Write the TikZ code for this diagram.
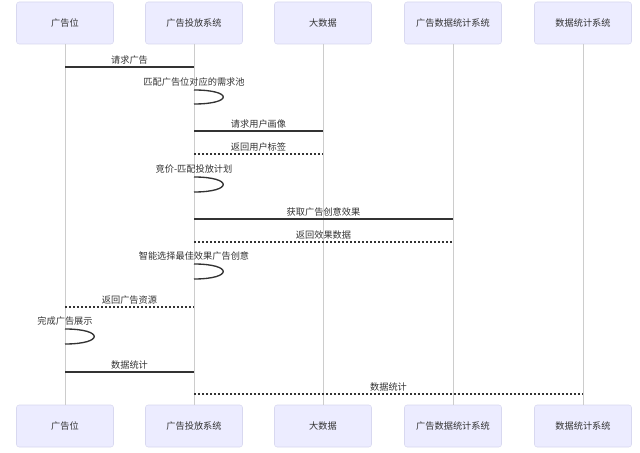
\documentclass[tikz,border=0pt]{standalone}
\usepackage{fontspec}
\setmainfont{Noto Sans CJK SC}
\definecolor{actorfill}{HTML}{ECECFF}
\definecolor{actorline}{HTML}{D8D8F0}
\definecolor{txt}{HTML}{333333}
\definecolor{lifegray}{HTML}{CCCCCC}
\begin{document}
\begin{tikzpicture}[x=0.75pt, y=-0.75pt, font=\fontsize{6.9}{8}\selectfont, line join=round, line cap=butt,
  actor/.style={draw=actorline, fill=actorfill, rounded corners=2pt, minimum width=72.75pt, minimum height=31.5pt, inner sep=0pt, text=txt},
  lifeline/.style={draw=lifegray, line width=0.75pt},
  msg/.style={draw=txt, line width=1pt},
  reply/.style={draw=txt, line width=0.9pt, dash pattern=on 1.5pt off 1.5pt},
  lbl/.style={text=txt, inner sep=1.5pt}]
% 画布
\useasboundingbox (0,0) rectangle (640,453);
\fill[white] (0,0) rectangle (640,453);
\def\top{23}  % 顶部参与者
\def\bot{426} % 底部参与者
% --- 参与者 ---
\node[actor] (pos)   at (65,\top)  {广告位};
\node[actor] (sys)   at (194,\top) {广告投放系统};
\node[actor] (big)   at (323,\top) {大数据};
\node[actor] (stat)  at (453,\top) {广告数据统计系统};
\node[actor] (data)  at (583,\top) {数据统计系统};
\node[actor] (posB)  at (65,\bot)  {广告位};
\node[actor] (sysB)  at (194,\bot) {广告投放系统};
\node[actor] (bigB)  at (323,\bot) {大数据};
\node[actor] (statB) at (453,\bot) {广告数据统计系统};
\node[actor] (dataB) at (583,\bot) {数据统计系统};
% --- 生命线 ---
\draw[lifeline] (pos) -- (posB);
\draw[lifeline] (sys) -- (sysB);
\draw[lifeline] (big) -- (bigB);
\draw[lifeline] (stat) -- (statB);
\draw[lifeline] (data) -- (dataB);

% --- 消息 ---
\draw[msg] (pos |- 0,67) -- (sys |- 0,67) node[midway, above, lbl] {请求广告};
\draw[msg] (sys |- 0,90) node[above, lbl, yshift=0.5pt] {匹配广告位对应的需求池}
  .. controls +(39,0) and +(39,0) .. (sys |- 0,104);
\draw[msg] (sys |- 0,131) -- (big |- 0,131) node[midway, above, lbl] {请求用户画像};
\draw[reply] (sys |- 0,154) -- (big |- 0,154) node[midway, above, lbl] {返回用户标签};
\draw[msg] (sys |- 0,177) node[above, lbl, yshift=0.5pt] {竞价-匹配投放计划}
  .. controls +(39,0) and +(39,0) .. (sys |- 0,192);
\draw[msg] (sys |- 0,219) -- (stat |- 0,219) node[midway, above, lbl] {获取广告创意效果};
\draw[reply] (sys |- 0,242) -- (stat |- 0,242) node[midway, above, lbl] {返回效果数据};
\draw[msg] (sys |- 0,264) node[above, lbl, yshift=0.5pt] {智能选择最佳效果广告创意}
  .. controls +(39,0) and +(39,0) .. (sys |- 0,279);
\draw[reply] (pos |- 0,307) -- (sys |- 0,307) node[midway, above, lbl] {返回广告资源};
\draw[msg] (pos |- 0,329) node[above, lbl, yshift=0.5pt] {完成广告展示}
  .. controls +(39,0) and +(39,0) .. (pos |- 0,344);
\draw[msg] (pos |- 0,372) -- (sys |- 0,372) node[midway, above, lbl] {数据统计};
\draw[reply] (sys |- 0,394) -- (data |- 0,394) node[midway, above, lbl] {数据统计};
\end{tikzpicture}
\end{document}
